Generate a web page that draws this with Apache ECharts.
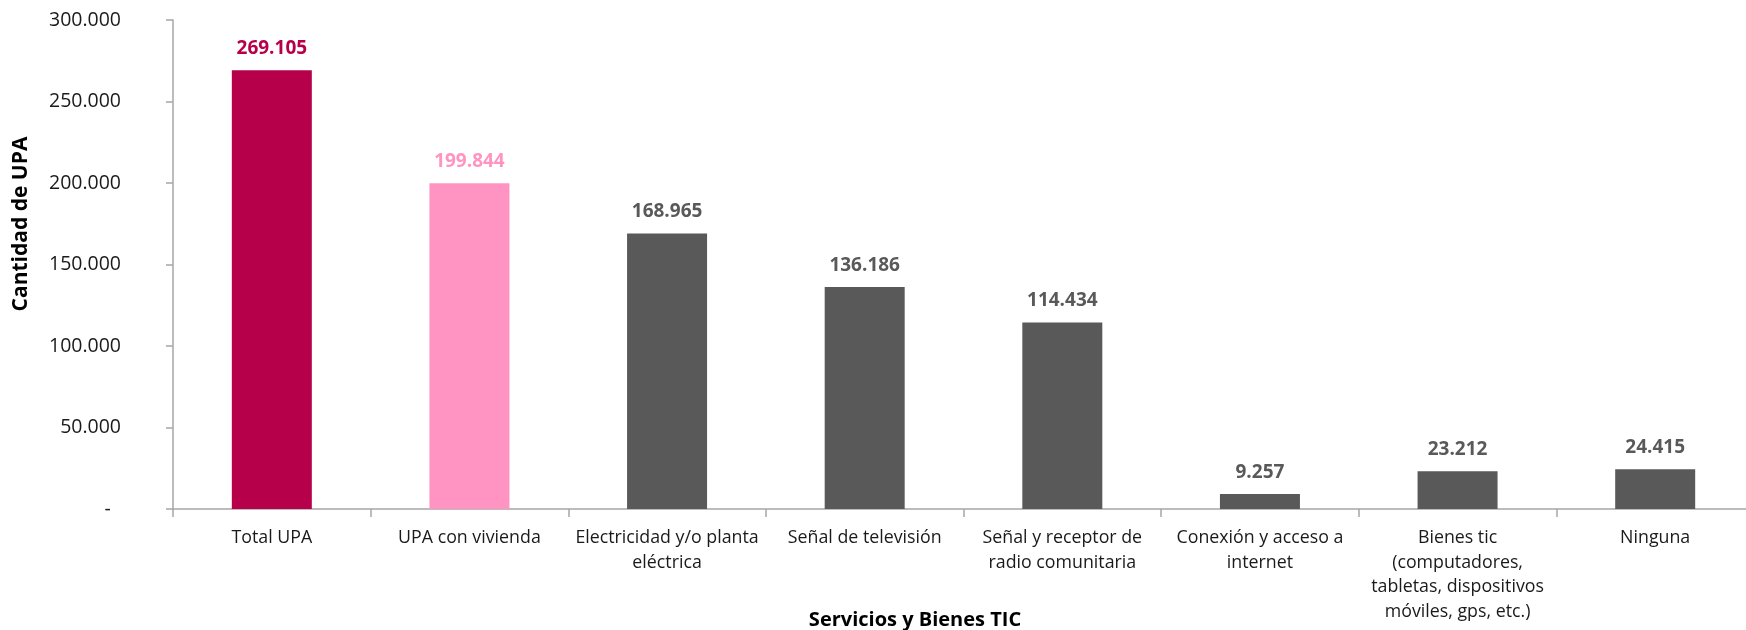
<!DOCTYPE html>
<html>
<head>
<meta charset="utf-8">
<script src="https://cdn.jsdelivr.net/npm/echarts@6/dist/echarts.min.js"></script>
<style>
html,body{margin:0;padding:0;background:#fff;overflow:hidden;}
#chart{width:1754px;height:630px;}
</style>
</head>
<body>
<div id="chart"></div>
<script>
const categories = [
  "Total UPA",
  "UPA con vivienda",
  "Electricidad y/o planta eléctrica",
  "Señal de televisión",
  "Señal y receptor de radio comunitaria",
  "Conexión y acceso a internet",
  "Bienes tic (computadores, tabletas, dispositivos móviles, gps, etc.)",
  "Ninguna"
];
const categoryLabels = [
  "Total UPA",
  "UPA con vivienda",
  "Electricidad y/o planta\neléctrica",
  "Señal de televisión",
  "Señal y receptor de\nradio comunitaria",
  "Conexión y acceso a\ninternet",
  "Bienes tic\n(computadores,\ntabletas, dispositivos\nmóviles, gps, etc.)",
  "Ninguna"
];
const values = [269105, 199844, 168965, 136186, 114434, 9257, 23212, 24415];
const barColors = ["#B7004A", "#FF94C2", "#595959", "#595959", "#595959", "#595959", "#595959", "#595959"];
const yTicks = [0, 50000, 100000, 150000, 200000, 250000, 300000];
const yAxisTitle = "Cantidad de UPA";
const xAxisTitle = "Servicios y Bienes TIC";

function fmt(v) {
  if (v === 0) return "-  ";
  return Math.round(v).toString().replace(/\B(?=(\d{3})+(?!\d))/g, ".");
}

const FONT = "'Open Sans', 'Noto Sans', sans-serif";
const chart = echarts.init(document.getElementById('chart'), null, {renderer: 'canvas'});
chart.setOption({
  animation: false,
  backgroundColor: '#ffffff',
  grid: {left: 173, top: 20, right: 0, bottom: 121, containLabel: false},
  xAxis: {
    type: 'category',
    data: categories,
    boundaryGap: true,
    axisLine: {show: true, lineStyle: {color: '#A6A6A6', width: 1.5}},
    axisTick: {show: true, length: 8, alignWithLabel: false, lineStyle: {color: '#A6A6A6', width: 1.5}},
    axisLabel: {
      interval: 0,
      margin: 17,
      color: '#1a1a1a',
      fontFamily: FONT,
      fontSize: 17.8,
      lineHeight: 24.5,
      align: 'center',
      formatter: function (v, i) { return categoryLabels[i]; }
    },
    splitLine: {show: false}
  },
  yAxis: {
    type: 'value',
    min: yTicks[0],
    max: yTicks[yTicks.length - 1],
    interval: yTicks[1] - yTicks[0],
    axisLine: {show: true, lineStyle: {color: '#A6A6A6', width: 1.5}},
    axisTick: {show: true, length: 7, lineStyle: {color: '#A6A6A6', width: 1.5}},
    axisLabel: {
      margin: 52,
      color: '#1a1a1a',
      fontFamily: FONT,
      fontSize: 19.5,
      formatter: fmt
    },
    splitLine: {show: false}
  },
  series: [{
    type: 'bar',
    barWidth: 80,
    data: values.map(function (v, i) {
      return {
        value: v,
        itemStyle: {color: barColors[i]},
        label: {color: barColors[i]}
      };
    }),
    label: {
      show: true,
      position: 'top',
      distance: 12,
      fontFamily: FONT,
      fontSize: 19,
      fontWeight: 'bold',
      formatter: function (p) { return fmt(p.value); }
    }
  }],
  graphic: [
    {
      type: 'text',
      x: 21, y: 224,
      rotation: Math.PI / 2,
      style: {
        text: yAxisTitle,
        font: "bold 21px " + FONT,
        fill: '#000000',
        textAlign: 'center',
        textVerticalAlign: 'middle'
      }
    },
    {
      type: 'text',
      x: 915, y: 620,
      style: {
        text: xAxisTitle,
        font: "bold 20px " + FONT,
        fill: '#000000',
        textAlign: 'center',
        textVerticalAlign: 'middle'
      }
    }
  ]
});
</script>
</body>
</html>
